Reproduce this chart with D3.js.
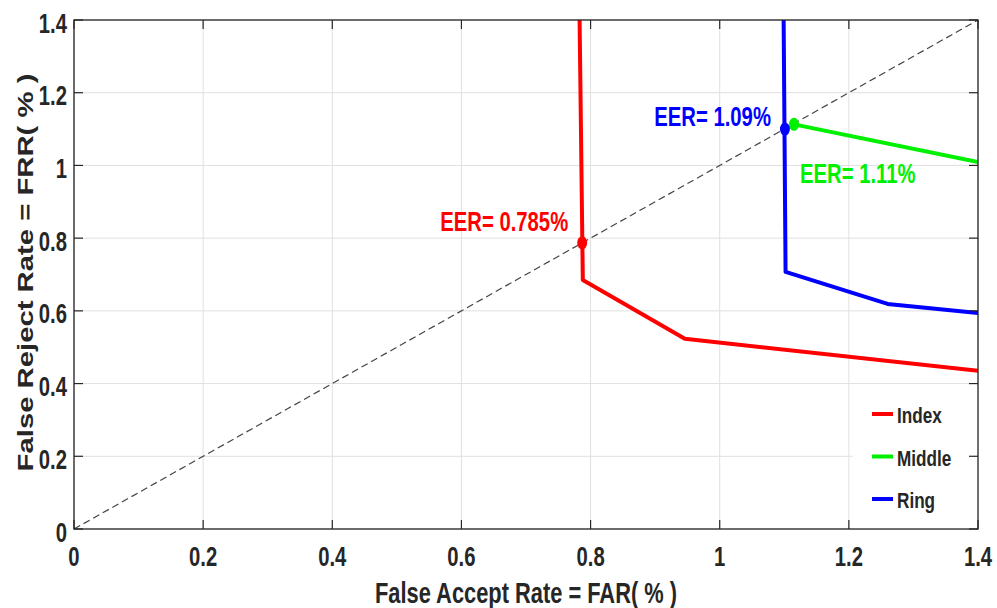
<!DOCTYPE html>
<html>
<head>
<meta charset="utf-8">
<script src="https://cdn.jsdelivr.net/npm/d3@7"></script>
<style>
body{margin:0;background:#fff;}
text{font-family:"Liberation Sans",Arial,sans-serif;font-weight:bold;fill:#262626;}
</style>
</head>
<body>
<div id="chart"></div>
<script>
// axis ticks
var xTicks = [0,0.2,0.4,0.6,0.8,1,1.2,1.4];
var xTickLabels = ["0","0.2","0.4","0.6","0.8","1","1.2","1.4"];
var yTicks = [0,0.2,0.4,0.6,0.8,1,1.2,1.4];
var yTickLabels = ["0","0.2","0.4","0.6","0.8","1","1.2","1.4"];

// DET curves (FAR %, FRR %)
var seriesNames = ["Index","Middle","Ring"];
var seriesColors = ["#ff0000","#00f000","#0000ff"];
var indexFAR = [0.783,0.788,0.946,1.4];
var indexFRR = [1.4,0.685,0.523,0.435];
var middleFAR = [1.115,1.4];
var middleFRR = [1.113,1.009];
var ringFAR = [1.099,1.102,1.260,1.4];
var ringFRR = [1.4,0.707,0.619,0.594];

// EER points
var eerFAR = [0.787,1.115,1.101];
var eerFRR = [0.787,1.113,1.100];
var eerLabels = ["EER= 0.785%","EER= 1.11%","EER= 1.09%"];

var diagFAR = [0,1.4];
var diagFRR = [0,1.4];

var W = 997, H = 608;
var SX = 0.78; // horizontally squeezed text, as in the source figure
var L = 74, R = 978, T = 20, B = 529;

var svg = d3.select("#chart").append("svg").attr("width",W).attr("height",H);

var x = d3.scaleLinear().domain([0,1.4]).range([L,R]);
var y = d3.scaleLinear().domain([0,1.4]).range([B,T]);

var txt = function(g,s,px,py,size,anchor,color){
  return g.append("text")
    .attr("transform","translate("+px+","+py+") scale("+SX+",1.03)")
    .attr("text-anchor",anchor)
    .style("font-size",size+"px")
    .style("fill",color||"#262626")
    .text(s);
}

svg.append("defs").append("clipPath").attr("id","clip")
  .append("rect").attr("x",L).attr("y",T).attr("width",R-L).attr("height",B-T);

// grid
var grid = svg.append("g");
grid.selectAll(".gx").data(xTicks).enter().append("line")
  .attr("x1",d=>x(d)).attr("x2",d=>x(d)).attr("y1",T).attr("y2",B)
  .attr("stroke","#e0e0e0").attr("stroke-width",1);
grid.selectAll(".gy").data(yTicks).enter().append("line")
  .attr("x1",L).attr("x2",R).attr("y1",d=>y(d)).attr("y2",d=>y(d))
  .attr("stroke","#e0e0e0").attr("stroke-width",1);

var plot = svg.append("g").attr("clip-path","url(#clip)");

var line = d3.line().x(d=>x(d[0])).y(d=>y(d[1]));

plot.append("path")
  .attr("d",line(d3.zip(diagFAR,diagFRR)))
  .attr("fill","none").attr("stroke","#444").attr("stroke-width",1.2)
  .attr("stroke-dasharray","7,4");

var curves = [d3.zip(indexFAR,indexFRR), d3.zip(middleFAR,middleFRR), d3.zip(ringFAR,ringFRR)];
curves.forEach(function(c,i){
  plot.append("path")
    .attr("d",line(c))
    .attr("fill","none")
    .attr("stroke",seriesColors[i])
    .attr("stroke-width",4)
    .attr("stroke-linejoin","round");
});

// EER markers
for (let i=0;i<3;i++){
  plot.append("ellipse")
    .attr("cx",x(eerFAR[i])).attr("cy",y(eerFRR[i]))
    .attr("rx",5).attr("ry",6.5)
    .attr("fill",seriesColors[i]);
}

// EER labels
txt(svg,eerLabels[0],x(eerFAR[0])-14,y(eerFRR[0])-12,26,"end",seriesColors[0]);
txt(svg,eerLabels[1],x(eerFAR[1])+6,y(eerFRR[1])+59,26,"start",seriesColors[1]);
txt(svg,eerLabels[2],x(eerFAR[2])-14,y(eerFRR[2])-3,26,"end",seriesColors[2]);

// legend
var leg = svg.append("g");
leg.append("rect").attr("x",853).attr("y",390).attr("width",R-853).attr("height",B-390).attr("fill","#fff");
seriesNames.forEach(function(n,i){
  var ly = 414 + i*42.5;
  leg.append("line").attr("x1",872).attr("x2",893).attr("y1",ly).attr("y2",ly)
    .attr("stroke",seriesColors[i]).attr("stroke-width",4);
  txt(leg,n,897,ly+9,22,"start");
});

// axes box and inward ticks
var ax = svg.append("g");
ax.append("rect").attr("x",L).attr("y",T).attr("width",R-L).attr("height",B-T)
  .attr("fill","none").attr("stroke","#262626").attr("stroke-width",1.3);
var tl = 9;
ax.selectAll(".tb").data(xTicks).enter().append("line")
  .attr("x1",d=>x(d)).attr("x2",d=>x(d)).attr("y1",B).attr("y2",B-tl)
  .attr("stroke","#262626").attr("stroke-width",1.2);
ax.selectAll(".tt").data(xTicks).enter().append("line")
  .attr("x1",d=>x(d)).attr("x2",d=>x(d)).attr("y1",T).attr("y2",T+tl)
  .attr("stroke","#262626").attr("stroke-width",1.2);
ax.selectAll(".tl").data(yTicks).enter().append("line")
  .attr("x1",L).attr("x2",L+tl).attr("y1",d=>y(d)).attr("y2",d=>y(d))
  .attr("stroke","#262626").attr("stroke-width",1.2);
ax.selectAll(".tr").data(yTicks).enter().append("line")
  .attr("x1",R).attr("x2",R-tl).attr("y1",d=>y(d)).attr("y2",d=>y(d))
  .attr("stroke","#262626").attr("stroke-width",1.2);

xTicks.forEach(function(t,i){
  txt(ax,xTickLabels[i],x(t),566,26,"middle");
});
yTicks.forEach(function(t,i){
  txt(ax,yTickLabels[i],67,y(t)+12.5,26,"end");
});

// axis titles
txt(svg,"False Accept Rate = FAR( % )",(L+R)/2,603,28,"middle");
svg.append("text")
  .attr("transform","translate(33,"+((T+B)/2-2)+") rotate(-90) scale(1.01,"+SX+")")
  .attr("text-anchor","middle")
  .style("font-size","29px")
  .text("False Reject Rate = FRR( % )");
</script>
</body>
</html>
